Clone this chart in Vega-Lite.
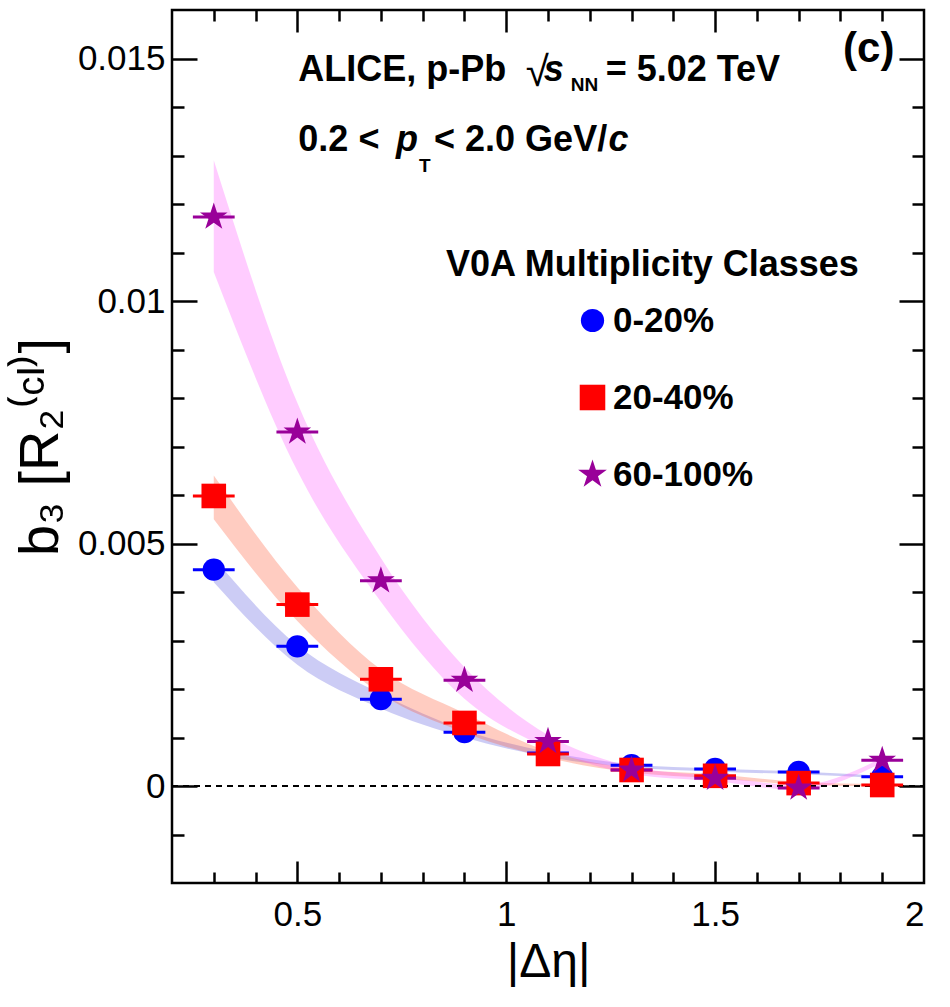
{
  "$schema": "https://vega.github.io/schema/vega-lite/v6.json",
  "autosize": {"type": "none"},
  "padding": {"left": 172, "top": 10, "right": 26, "bottom": 124},
  "width": 752,
  "height": 873,
  "background": "white",
  "datasets": {
    "points": [
      {"cls": "0-20%", "x": 0.3, "b": 0.00446},
      {"cls": "0-20%", "x": 0.5, "b": 0.00288},
      {"cls": "0-20%", "x": 0.7, "b": 0.00179},
      {"cls": "0-20%", "x": 0.9, "b": 0.00111},
      {"cls": "0-20%", "x": 1.1, "b": 0.00068},
      {"cls": "0-20%", "x": 1.3, "b": 0.00043},
      {"cls": "0-20%", "x": 1.5, "b": 0.00035},
      {"cls": "0-20%", "x": 1.7, "b": 0.00029},
      {"cls": "0-20%", "x": 1.9, "b": 0.00019},
      {"cls": "20-40%", "x": 0.3, "b": 0.00598},
      {"cls": "20-40%", "x": 0.5, "b": 0.00374},
      {"cls": "20-40%", "x": 0.7, "b": 0.0022},
      {"cls": "20-40%", "x": 0.9, "b": 0.0013},
      {"cls": "20-40%", "x": 1.1, "b": 0.00066},
      {"cls": "20-40%", "x": 1.3, "b": 0.00033},
      {"cls": "20-40%", "x": 1.5, "b": 0.00021},
      {"cls": "20-40%", "x": 1.7, "b": 0.00006},
      {"cls": "20-40%", "x": 1.9, "b": 0.00002},
      {"cls": "60-100%", "x": 0.3, "b": 0.01173},
      {"cls": "60-100%", "x": 0.5, "b": 0.0073},
      {"cls": "60-100%", "x": 0.7, "b": 0.00423},
      {"cls": "60-100%", "x": 0.9, "b": 0.00218},
      {"cls": "60-100%", "x": 1.1, "b": 0.00092},
      {"cls": "60-100%", "x": 1.3, "b": 0.00033},
      {"cls": "60-100%", "x": 1.5, "b": 0.00016},
      {"cls": "60-100%", "x": 1.7, "b": -0.00004},
      {"cls": "60-100%", "x": 1.9, "b": 0.00053}
    ],
    "bands": [
      {"cls": "0-20%", "x": 0.3, "lo": 0.0042, "hi": 0.0047},
      {"cls": "0-20%", "x": 0.5, "lo": 0.0025, "hi": 0.0029},
      {"cls": "0-20%", "x": 0.7, "lo": 0.0016, "hi": 0.0019},
      {"cls": "0-20%", "x": 0.9, "lo": 0.001, "hi": 0.00115},
      {"cls": "0-20%", "x": 1.1, "lo": 0.0006, "hi": 0.0007},
      {"cls": "0-20%", "x": 1.3, "lo": 0.00038, "hi": 0.00045},
      {"cls": "0-20%", "x": 1.5, "lo": 0.0003, "hi": 0.00036},
      {"cls": "0-20%", "x": 1.7, "lo": 0.00024, "hi": 0.0003},
      {"cls": "0-20%", "x": 1.9, "lo": 0.00016, "hi": 0.00021},
      {"cls": "20-40%", "x": 0.3, "lo": 0.0055, "hi": 0.0064},
      {"cls": "20-40%", "x": 0.5, "lo": 0.0034, "hi": 0.0041},
      {"cls": "20-40%", "x": 0.7, "lo": 0.0019, "hi": 0.0024},
      {"cls": "20-40%", "x": 0.9, "lo": 0.0011, "hi": 0.0015},
      {"cls": "20-40%", "x": 1.1, "lo": 0.00058, "hi": 0.00072},
      {"cls": "20-40%", "x": 1.3, "lo": 0.00028, "hi": 0.00036},
      {"cls": "20-40%", "x": 1.5, "lo": 0.00016, "hi": 0.00024},
      {"cls": "20-40%", "x": 1.7, "lo": 0.00003, "hi": 0.00009},
      {"cls": "20-40%", "x": 1.9, "lo": -0.00001, "hi": 0.00004},
      {"cls": "60-100%", "x": 0.3, "lo": 0.0106, "hi": 0.0129},
      {"cls": "60-100%", "x": 0.5, "lo": 0.0065, "hi": 0.0079},
      {"cls": "60-100%", "x": 0.7, "lo": 0.0038, "hi": 0.0047},
      {"cls": "60-100%", "x": 0.9, "lo": 0.0018, "hi": 0.00245},
      {"cls": "60-100%", "x": 1.1, "lo": 0.00078, "hi": 0.00105},
      {"cls": "60-100%", "x": 1.3, "lo": 0.00025, "hi": 0.0004},
      {"cls": "60-100%", "x": 1.5, "lo": 0.0001, "hi": 0.0002},
      {"cls": "60-100%", "x": 1.7, "lo": -0.00008, "hi": 0.00002},
      {"cls": "60-100%", "x": 1.9, "lo": 0.00048, "hi": 0.00058}
    ]
  },
  "layer": [
    {
      "data": {"name": "bands"},
      "transform": [{"filter": "datum.cls == '0-20%'"}],
      "mark": {"type": "area", "color": "#5555dd", "opacity": 0.3, "interpolate": "monotone"},
      "encoding": {
        "x": {
          "field": "x", "type": "quantitative",
          "scale": {"domain": [0.2, 2.0], "nice": false, "zero": false},
          "axis": {
            "orient": "bottom", "values": [0.5, 1, 1.5, 2], "format": "~g",
            "ticks": false, "domain": false, "grid": false,
            "labelFontSize": 35, "labelPadding": 14,
            "title": "|Δη|", "titleFontSize": 48, "titleFontWeight": "normal", "titlePadding": 6
          }
        },
        "y": {
          "field": "lo", "type": "quantitative",
          "scale": {"domain": [-0.002, 0.016], "nice": false, "zero": false},
          "axis": {
            "orient": "left", "values": [0, 0.005, 0.01, 0.015], "format": "~g",
            "ticks": false, "domain": false, "grid": false,
            "labelFontSize": 35, "labelPadding": 7,
            "title": "b₃ [R₂⁽ᶜᴵ⁾]", "titleFontSize": 56, "titleFontWeight": "normal", "titlePadding": 8
          }
        },
        "y2": {"field": "hi"}
      }
    },
    {
      "data": {"name": "bands"},
      "transform": [{"filter": "datum.cls == '20-40%'"}],
      "mark": {"type": "area", "color": "#ff5533", "opacity": 0.3, "interpolate": "monotone"},
      "encoding": {
        "x": {"field": "x", "type": "quantitative", "scale": {"domain": [0.2, 2.0], "nice": false, "zero": false}, "axis": null},
        "y": {"field": "lo", "type": "quantitative", "scale": {"domain": [-0.002, 0.016], "nice": false, "zero": false}, "axis": null},
        "y2": {"field": "hi"}
      }
    },
    {
      "data": {"name": "bands"},
      "transform": [{"filter": "datum.cls == '60-100%'"}],
      "mark": {"type": "area", "color": "#ff55ff", "opacity": 0.3, "interpolate": "monotone"},
      "encoding": {
        "x": {"field": "x", "type": "quantitative", "scale": {"domain": [0.2, 2.0], "nice": false, "zero": false}, "axis": null},
        "y": {"field": "lo", "type": "quantitative", "scale": {"domain": [-0.002, 0.016], "nice": false, "zero": false}, "axis": null},
        "y2": {"field": "hi"}
      }
    },
    {
      "data": {"values": [{"x0": 0.2, "x1": 2.0, "y": 0}]},
      "mark": {"type": "rule", "color": "black", "strokeWidth": 2, "strokeDash": [6, 5]},
      "encoding": {
        "x": {
          "field": "x0", "type": "quantitative",
          "scale": {"domain": [0.2, 2.0], "nice": false, "zero": false},
          "axis": {"orient": "bottom", "values": [0.5, 1, 1.5], "labels": false, "domain": false, "grid": false, "tickSize": -22, "tickWidth": 2.5, "tickColor": "black", "title": null}
        },
        "x2": {"field": "x1"},
        "y": {
          "field": "y", "type": "quantitative",
          "scale": {"domain": [-0.002, 0.016], "nice": false, "zero": false},
          "axis": {"orient": "left", "values": [0, 0.005, 0.01, 0.015], "labels": false, "domain": false, "grid": false, "tickSize": -25, "tickWidth": 2.5, "tickColor": "black", "title": null}
        }
      }
    },
    {
      "data": {"name": "points"},
      "transform": [
        {"filter": "datum.cls == '0-20%'"},
        {"calculate": "datum.x - 0.05", "as": "xlo"},
        {"calculate": "datum.x + 0.05", "as": "xhi"}
      ],
      "mark": {"type": "rule", "strokeWidth": 3, "color": "#0000ff"},
      "encoding": {
        "x": {
          "field": "xlo", "type": "quantitative",
          "scale": {"domain": [0.2, 2.0], "nice": false, "zero": false},
          "axis": {"orient": "bottom", "values": [0.3, 0.4, 0.6, 0.7, 0.8, 0.9, 1.1, 1.2, 1.3, 1.4, 1.6, 1.7, 1.8, 1.9], "labels": false, "domain": false, "grid": false, "tickSize": -11, "tickWidth": 2.5, "tickColor": "black", "title": null}
        },
        "x2": {"field": "xhi"},
        "y": {
          "field": "b", "type": "quantitative",
          "scale": {"domain": [-0.002, 0.016], "nice": false, "zero": false},
          "axis": {"orient": "left", "values": [-0.001, 0.001, 0.002, 0.003, 0.004, 0.006, 0.007, 0.008, 0.009, 0.011, 0.012, 0.013, 0.014], "labels": false, "domain": false, "grid": false, "tickSize": -12, "tickWidth": 2.5, "tickColor": "black", "title": null}
        }
      }
    },
    {
      "data": {"name": "points"},
      "transform": [
        {"filter": "datum.cls == '20-40%'"},
        {"calculate": "datum.x - 0.05", "as": "xlo"},
        {"calculate": "datum.x + 0.05", "as": "xhi"}
      ],
      "mark": {"type": "rule", "strokeWidth": 3, "color": "#ff0000"},
      "encoding": {
        "x": {"field": "xlo", "type": "quantitative", "scale": {"domain": [0.2, 2.0], "nice": false, "zero": false}, "axis": null},
        "x2": {"field": "xhi"},
        "y": {"field": "b", "type": "quantitative", "scale": {"domain": [-0.002, 0.016], "nice": false, "zero": false}, "axis": null}
      }
    },
    {
      "data": {"name": "points"},
      "transform": [
        {"filter": "datum.cls == '60-100%'"},
        {"calculate": "datum.x - 0.05", "as": "xlo"},
        {"calculate": "datum.x + 0.05", "as": "xhi"}
      ],
      "mark": {"type": "rule", "strokeWidth": 3, "color": "#990099"},
      "encoding": {
        "x": {"field": "xlo", "type": "quantitative", "scale": {"domain": [0.2, 2.0], "nice": false, "zero": false}, "axis": null},
        "x2": {"field": "xhi"},
        "y": {"field": "b", "type": "quantitative", "scale": {"domain": [-0.002, 0.016], "nice": false, "zero": false}, "axis": null}
      }
    },
    {
      "data": {"name": "points"},
      "mark": {"type": "point", "filled": true, "opacity": 1, "strokeWidth": 0, "size": 500},
      "encoding": {
        "x": {
          "field": "x", "type": "quantitative",
          "scale": {"domain": [0.2, 2.0], "nice": false, "zero": false},
          "axis": {"orient": "top", "values": [0.5, 1, 1.5], "labels": false, "domain": false, "grid": false, "tickSize": -22, "tickWidth": 2.5, "tickColor": "black", "title": null}
        },
        "y": {
          "field": "b", "type": "quantitative",
          "scale": {"domain": [-0.002, 0.016], "nice": false, "zero": false},
          "axis": {"orient": "right", "values": [0, 0.005, 0.01, 0.015], "labels": false, "domain": false, "grid": false, "tickSize": -25, "tickWidth": 2.5, "tickColor": "black", "title": null}
        },
        "color": {
          "field": "cls", "type": "nominal",
          "scale": {"domain": ["0-20%", "20-40%", "60-100%"], "range": ["#0000ff", "#ff0000", "#990099"]},
          "legend": {
            "orient": "none", "legendX": 403, "legendY": 293, "title": null, "padding": 0,
            "labelFontSize": 35, "labelFontWeight": "bold", "labelColor": "black", "labelOffset": 3,
            "symbolSize": 540, "symbolStrokeWidth": 0, "rowPadding": 41
          }
        },
        "shape": {
          "field": "cls", "type": "nominal",
          "scale": {"domain": ["0-20%", "20-40%", "60-100%"], "range": ["circle", "M-1.1,-1.1H1.1V1.1H-1.1Z", "M0,-1.3L0.292,-0.402L1.236,-0.402L0.472,0.153L0.764,1.052L0,0.496L-0.764,1.052L-0.472,0.153L-1.236,-0.402L-0.292,-0.402Z"]}
        }
      }
    },
    {
      "data": {"values": [
        {"x": 0.5024, "y": 0.014527, "t": "ALICE, p-Pb"},
        {"x": 1.238, "y": 0.014527, "t": "= 5.02 TeV"},
        {"x": 0.5024, "y": 0.013086, "t": "0.2 <"},
        {"x": 0.8272, "y": 0.013086, "t": "< 2.0 GeV/"},
        {"x": 0.8559, "y": 0.010514, "t": "V0A Multiplicity Classes"}
      ]},
      "mark": {"type": "text", "align": "left", "baseline": "alphabetic", "fontSize": 36, "fontWeight": "bold", "color": "black"},
      "encoding": {
        "x": {
          "field": "x", "type": "quantitative",
          "scale": {"domain": [0.2, 2.0], "nice": false, "zero": false},
          "axis": {"orient": "top", "values": [0.3, 0.4, 0.6, 0.7, 0.8, 0.9, 1.1, 1.2, 1.3, 1.4, 1.6, 1.7, 1.8, 1.9], "labels": false, "domain": false, "grid": false, "tickSize": -11, "tickWidth": 2.5, "tickColor": "black", "title": null}
        },
        "y": {
          "field": "y", "type": "quantitative",
          "scale": {"domain": [-0.002, 0.016], "nice": false, "zero": false},
          "axis": {"orient": "right", "values": [-0.001, 0.001, 0.002, 0.003, 0.004, 0.006, 0.007, 0.008, 0.009, 0.011, 0.012, 0.013, 0.014], "labels": false, "domain": false, "grid": false, "tickSize": -12, "tickWidth": 2.5, "tickColor": "black", "title": null}
        },
        "text": {"field": "t"}
      }
    },
    {
      "data": {"values": [
        {"x": 1.0899, "y": 0.014527, "t": "s"},
        {"x": 0.7364, "y": 0.013086, "t": "p"},
        {"x": 1.245, "y": 0.013086, "t": "c"}
      ]},
      "mark": {"type": "text", "align": "left", "baseline": "alphabetic", "fontSize": 36, "fontWeight": "bold", "fontStyle": "italic", "color": "black"},
      "encoding": {
        "x": {"field": "x", "type": "quantitative", "scale": {"domain": [0.2, 2.0], "nice": false, "zero": false}, "axis": null},
        "y": {"field": "y", "type": "quantitative", "scale": {"domain": [-0.002, 0.016], "nice": false, "zero": false}, "axis": null},
        "text": {"field": "t"}
      }
    },
    {
      "data": {"values": [
        {"x": 1.1544, "y": 0.014321, "t": "NN"},
        {"x": 0.7914, "y": 0.012654, "t": "T"}
      ]},
      "mark": {"type": "text", "align": "left", "baseline": "alphabetic", "fontSize": 19, "fontWeight": "bold", "color": "black"},
      "encoding": {
        "x": {"field": "x", "type": "quantitative", "scale": {"domain": [0.2, 2.0], "nice": false, "zero": false}, "axis": null},
        "y": {"field": "y", "type": "quantitative", "scale": {"domain": [-0.002, 0.016], "nice": false, "zero": false}, "axis": null},
        "text": {"field": "t"}
      }
    },
    {
      "data": {"values": [
        {"x": 1.047, "y": 0.01443, "t": "√"}
      ]},
      "mark": {"type": "text", "align": "left", "baseline": "alphabetic", "fontSize": 42, "fontWeight": "normal", "color": "black"},
      "encoding": {
        "x": {"field": "x", "type": "quantitative", "scale": {"domain": [0.2, 2.0], "nice": false, "zero": false}, "axis": null},
        "y": {"field": "y", "type": "quantitative", "scale": {"domain": [-0.002, 0.016], "nice": false, "zero": false}, "axis": null},
        "text": {"field": "t"}
      }
    },
    {
      "data": {"values": [
        {"x": 1.8064, "y": 0.014938, "t": "(c)"}
      ]},
      "mark": {"type": "text", "align": "left", "baseline": "alphabetic", "fontSize": 42, "fontWeight": "bold", "color": "black"},
      "encoding": {
        "x": {"field": "x", "type": "quantitative", "scale": {"domain": [0.2, 2.0], "nice": false, "zero": false}, "axis": null},
        "y": {"field": "y", "type": "quantitative", "scale": {"domain": [-0.002, 0.016], "nice": false, "zero": false}, "axis": null},
        "text": {"field": "t"}
      }
    }
  ],
  "resolve": {"axis": {"x": "independent", "y": "independent"}},
  "config": {
    "font": "Liberation Sans",
    "view": {"stroke": "black", "strokeWidth": 2.5},
    "axis": {"labelColor": "black", "titleColor": "black", "labelFont": "Liberation Sans", "titleFont": "Liberation Sans"},
    "legend": {"labelFont": "Liberation Sans"},
    "text": {"font": "Liberation Sans"}
  }
}
